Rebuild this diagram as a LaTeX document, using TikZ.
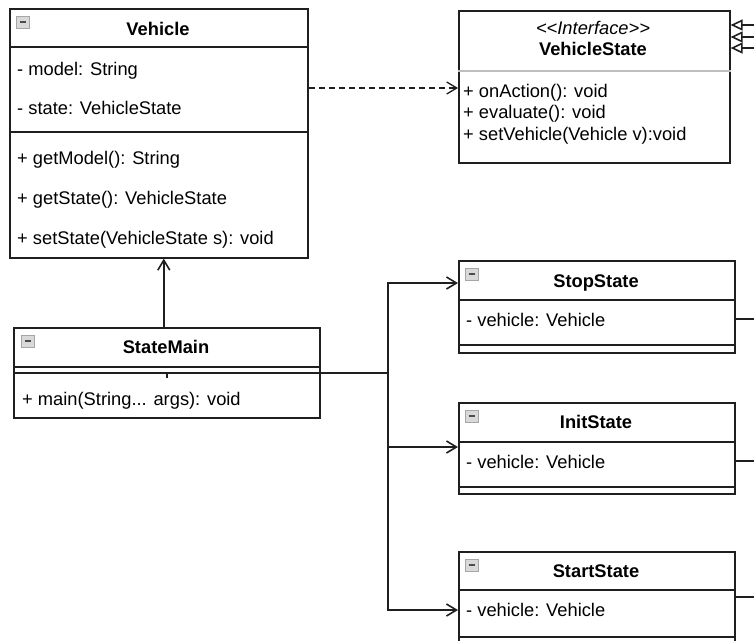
\documentclass[tikz,border=0pt]{standalone}
\usepackage{fontspec}
\setmainfont{Liberation Sans}
\usetikzlibrary{arrows.meta}
\newcommand\fs{\fontsize{18.3}{22}\selectfont}
\begin{document}
\begin{tikzpicture}[x=1pt,y=-1pt,
  ln/.style={line width=1.6pt, draw=black!88},
  cls/.style={ln, rectangle, anchor=north west, inner sep=0pt, fill=white},
  txt/.style={anchor=west, inner sep=0pt, font=\fs, text height=14pt, text depth=3pt},
  ttl/.style={inner sep=0pt, font=\fs\bfseries, text height=14pt, text depth=3pt},
  barb/.style={-{Straight Barb[length=10pt,width=12pt]}},
  tri/.style={-{Triangle[open,length=12pt,width=11pt]}},
  ico/.pic={\draw[fill=gray!30, draw=gray!70, line width=0.8pt] (0,0) rectangle (13,12);
            \draw[line width=1.6pt, black!70] (3.5,6) -- (9.5,6);}
]
\useasboundingbox (0,0) rectangle (754,640);
\clip (0,0) rectangle (754,640);

% Vehicle
\node[cls, minimum width=298pt, minimum height=249pt] (veh) at (9,8) {};
\draw[ln] ([yshift=-39pt]veh.north west) -- ([yshift=-39pt]veh.north east);
\draw[ln] ([yshift=-124pt]veh.north west) -- ([yshift=-124pt]veh.north east);
\pic at ([shift={(7,8)}]veh.north west) {ico};
\node[ttl] (vehT) at (158,30) {Vehicle};
\node[txt] (vehA1) at (17,70) {- model: String};
\node[txt] (vehA2) at (17,109) {- state: VehicleState};
\node[txt] (vehM1) at (17,159) {+ getModel(): String};
\node[txt] (vehM2) at (17,199) {+ getState(): VehicleState};
\node[txt] (vehM3) at (17,239) {+ setState(VehicleState s): void};

% VehicleState
\node[cls, minimum width=271pt, minimum height=152pt] (vs) at (458,10) {};
\draw[line width=1.6pt, draw=gray!50] ([yshift=-61pt]vs.north west) -- ([yshift=-61pt]vs.north east);
\node[inner sep=0pt, font=\fs\itshape, text height=14pt, text depth=3pt] (vsS) at (593,29) {<\kern0pt<Interface>\kern0pt>};
\node[ttl] (vsT) at (593,50) {VehicleState};
\node[txt] (vsM1) at (463,92) {+ onAction(): void};
\node[txt] (vsM2) at (463,113) {+ evaluate(): void};
\node[txt] (vsM3) at (463,135) {+ setVehicle(Vehicle v):void};

% StateMain
\node[cls, minimum width=306pt, minimum height=90pt] (sm) at (13,327) {};
\draw[ln] ([yshift=-40pt]sm.north west) -- ([yshift=-40pt]sm.north east);
\draw[ln] (sm.west) -- (sm.east);
\pic at ([shift={(8,8)}]sm.north west) {ico};
\node[ttl] (smT) at (166,348) {StateMain};
\node[txt] (smM1) at (22,400) {+ main(String... args): void};

% StopState
\node[cls, minimum width=276pt, minimum height=92pt] (stop) at (458,260) {};
\draw[ln] ([yshift=-40pt]stop.north west) -- ([yshift=-40pt]stop.north east);
\draw[ln] ([yshift=-85pt]stop.north west) -- ([yshift=-85pt]stop.north east);
\pic at ([shift={(7,8)}]stop.north west) {ico};
\node[ttl] (stopT) at (596,282) {StopState};
\node[txt] (stopA) at (466,321) {- vehicle: Vehicle};

% InitState
\node[cls, minimum width=276pt, minimum height=91pt] (init) at (458,402) {};
\draw[ln] ([yshift=-40pt]init.north west) -- ([yshift=-40pt]init.north east);
\draw[ln] ([yshift=-85pt]init.north west) -- ([yshift=-85pt]init.north east);
\pic at ([shift={(7,8)}]init.north west) {ico};
\node[ttl] (initT) at (596,423) {InitState};
\node[txt] (initA) at (466,463) {- vehicle: Vehicle};

% StartState
\node[cls, minimum width=276pt, minimum height=95pt] (start) at (458,551) {};
\draw[ln] ([yshift=-39pt]start.north west) -- ([yshift=-39pt]start.north east);
\draw[ln] ([yshift=-86pt]start.north west) -- ([yshift=-86pt]start.north east);
\pic at ([shift={(7,8)}]start.north west) {ico};
\node[ttl] (startT) at (596,572) {StartState};
\node[txt] (startA) at (466,611) {- vehicle: Vehicle};

% connectors
\draw[ln, line width=1.3pt, dash pattern=on 6pt off 4pt, barb] ([yshift=-80pt]veh.north east) -- ([yshift=-78pt]vs.north west);
\draw[ln, barb] ([xshift=-3pt]sm.north) -- ([xshift=-3pt]sm.north |- veh.south);

\coordinate (j) at (sm.center -| 388,0);
\draw[ln] (sm.center) -- (j);
\draw[ln] (sm.center) -- ++(0,5);
\draw[ln, barb] (j) |- ([yshift=-23pt]stop.north west);
\draw[ln, barb] (j) |- ([yshift=-45pt]init.north west);
\draw[ln, barb] (j) |- ([yshift=-59pt]start.north west);

% realization lines toward the interface (off canvas to the right)
\coordinate (r1) at (790,319);
\coordinate (r2) at (790,461);
\coordinate (r3) at (790,597);
\draw[ln] ([yshift=-59pt]stop.north east) -- (r1);
\draw[ln] ([yshift=-59pt]init.north east) -- (r2);
\draw[ln] ([yshift=-46pt]start.north east) -- (r3);

\coordinate (g1) at (790,25);
\coordinate (g2) at (790,37);
\coordinate (g3) at (790,48);
\draw[ln, tri] (g1) -- ([yshift=-15pt]vs.north east);
\draw[ln, tri] (g2) -- ([yshift=-27pt]vs.north east);
\draw[ln, tri] (g3) -- ([yshift=-38pt]vs.north east);
\end{tikzpicture}
\end{document}
